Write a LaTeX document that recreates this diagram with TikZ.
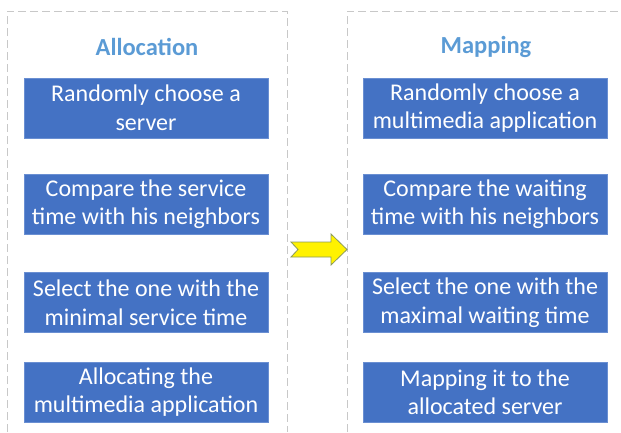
\documentclass[tikz,border=0pt]{standalone}
\usepackage{fontspec}
\setmainfont{Carlito}
\usepackage{xcolor}
\usepackage{tikz}
\usetikzlibrary{positioning}
\definecolor{stepblue}{HTML}{4472C4}
\definecolor{stepedge}{HTML}{6A8FD2}
\definecolor{titleblue}{HTML}{5B9BD5}
\definecolor{framegray}{HTML}{C8C8C8}
\definecolor{arrowedge}{HTML}{8A9A5B}

\begin{document}
\begin{tikzpicture}[x=1pt,y=-1pt,
  stepbox/.style={fill=stepblue, draw=stepedge, line width=0.8pt, text=white,
    minimum width=244pt, minimum height=60pt, align=center,
    font=\fontsize{24}{28.5}\selectfont, inner sep=0pt},
  title/.style={text=titleblue, font=\fontsize{24.5}{28}\selectfont\bfseries},
  frame/.style={draw=framegray, line width=0.9pt, dash pattern=on 8pt off 4pt}]
  \useasboundingbox (0,0) rectangle (621,432);
  % dashed frames
  \draw[frame] (7,432) -- (7,11) -- (287,11) -- (287,432);
  \draw[frame] (347,432) -- (347,11) -- (621,11);
  % titles
  \node[title] (alloc) at (147,47) {Allocation};
  \node[title] (map) at (486,47) {Mapping};
  % allocation steps
  \node[stepbox] (a1) at (146,108) {Randomly choose a\\server};
  \node[stepbox] (a2) at (146,204) {Compare the service\\time with his neighbors};
  \node[stepbox] (a3) at (146,302.5) {Select the one with the\\minimal service time};
  \node[stepbox] (a4) at (146,392) {Allocating the\\multimedia application};
  % mapping steps
  \node[stepbox] (m1) at (485,108) {Randomly choose a\\multimedia application};
  \node[stepbox] (m2) at (485,204) {Compare the waiting\\time with his neighbors};
  \node[stepbox] (m3) at (485,302.5) {Select the one with the\\maximal waiting time};
  \node[stepbox] (m4) at (485,392) {Mapping it to the\\allocated server};
  % notched arrow between the two phases
  \draw[fill=yellow, draw=arrowedge, line width=0.8pt, line join=miter]
    (291,242) -- (331,242) -- (331,234) -- (347,249.5) -- (331,265)
    -- (331,257) -- (291,257) -- (298,249.5) -- cycle;
\end{tikzpicture}
\end{document}
